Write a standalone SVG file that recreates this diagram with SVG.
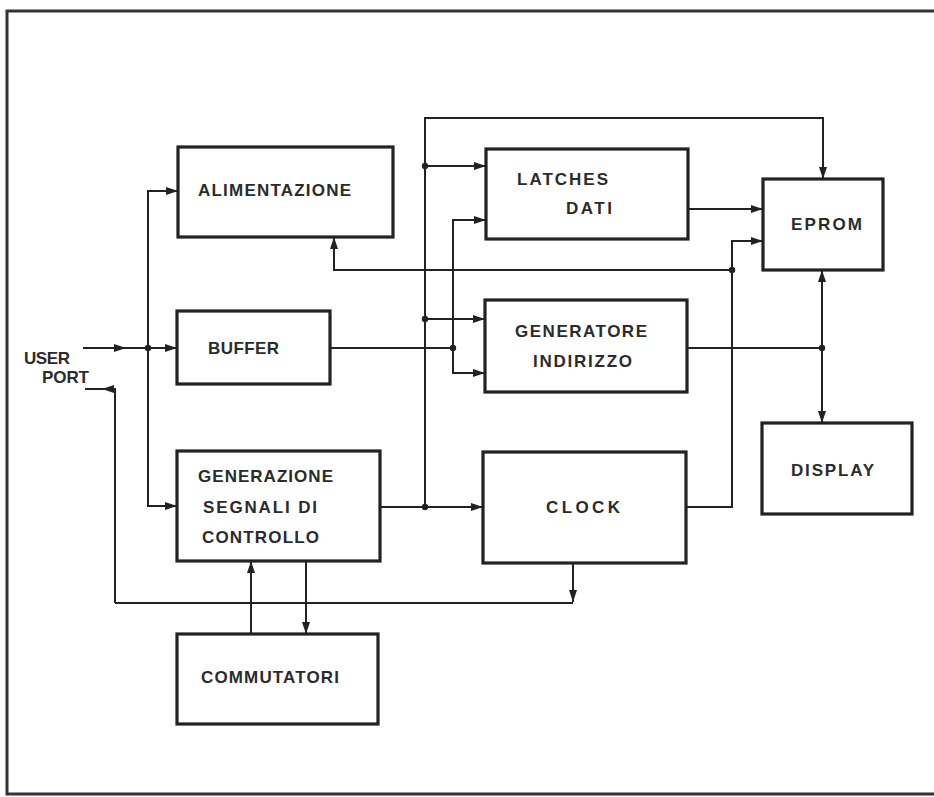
<svg xmlns="http://www.w3.org/2000/svg" width="934" height="797" viewBox="0 0 934 797">
<style>
.box{fill:none;stroke:#222;stroke-width:3.2}
.ln{fill:none;stroke:#222;stroke-width:2}
.arr{fill:none;stroke:#222;stroke-width:2;marker-end:url(#ah)}
.frame{fill:none;stroke:#333;stroke-width:3}
text{font-family:"Liberation Sans",Arial,sans-serif;font-weight:bold;font-size:17px;fill:#2b2b2b}
.dot{fill:#222}
</style>
<defs>
<marker id="ah" viewBox="0 0 12 8" refX="12" refY="4" markerWidth="12" markerHeight="8" markerUnits="userSpaceOnUse" orient="auto">
<path d="M0,0 L12,4 L0,8 Z" fill="#222"/>
</marker>
</defs>
<rect width="934" height="797" fill="#fff"/>
<g id="frame">
<path class="frame" d="M934,11 L7,11 L7,794 L934,794"/>
</g>
<g id="connectors">
<path class="arr" d="M83,348 L126,348"/>
<path class="ln" d="M120,348 L148,348"/>
<path class="arr" d="M148,348 L177,348"/>
<path class="arr" d="M148,348 L148,191 L178,191"/>
<path class="arr" d="M148,348 L148,506 L177,506"/>
<path class="arr" d="M115,603 L115,389 L102,389"/>
<path class="ln" d="M104,389 L85,389"/>
<path class="ln" d="M115,603 L573,603"/>
<path class="arr" d="M573,563 L573,602"/>
<path class="arr" d="M251,634 L251,561"/>
<path class="arr" d="M306,561 L306,634"/>
<path class="ln" d="M330,348 L453,348"/>
<path class="arr" d="M453,348 L453,220 L486,220"/>
<path class="arr" d="M453,348 L453,373 L485,373"/>
<path class="arr" d="M380,507 L483,507"/>
<path class="arr" d="M425,507 L425,118 L823,118 L823,179"/>
<path class="arr" d="M425,166 L486,166"/>
<path class="arr" d="M425,319 L485,319"/>
<path class="arr" d="M688,209 L763,209"/>
<path class="arr" d="M686,507 L732,507 L732,241 L763,241"/>
<path class="arr" d="M732,270 L334,270 L334,237"/>
<path class="ln" d="M687,348 L822,348"/>
<path class="arr" d="M822,348 L822,270"/>
<path class="arr" d="M822,348 L822,423"/>
<circle class="dot" cx="148" cy="348" r="3.2"/>
<circle class="dot" cx="453" cy="348" r="3.2"/>
<circle class="dot" cx="425" cy="166" r="3.2"/>
<circle class="dot" cx="425" cy="319" r="3.2"/>
<circle class="dot" cx="425" cy="507" r="3.2"/>
<circle class="dot" cx="732" cy="270" r="3.2"/>
<circle class="dot" cx="822" cy="348" r="3.2"/>
</g>
<g id="userport">
<text x="24" y="364" textLength="46" lengthAdjust="spacing">USER</text>
<text x="42" y="383" textLength="47" lengthAdjust="spacing">PORT</text>
</g>
<g id="alimentazione">
<rect class="box" x="178" y="147" width="215" height="90"/>
<text x="198" y="196" textLength="153" lengthAdjust="spacing">ALIMENTAZIONE</text>
</g>
<g id="buffer">
<rect class="box" x="177" y="311" width="153" height="73"/>
<text x="208" y="354" textLength="71" lengthAdjust="spacing">BUFFER</text>
</g>
<g id="generazione">
<rect class="box" x="177" y="451" width="203" height="110"/>
<text x="198" y="482" textLength="135" lengthAdjust="spacing">GENERAZIONE</text>
<text x="203" y="513" textLength="114" lengthAdjust="spacing">SEGNALI DI</text>
<text x="202" y="543" textLength="117" lengthAdjust="spacing">CONTROLLO</text>
</g>
<g id="commutatori">
<rect class="box" x="177" y="634" width="201" height="90"/>
<text x="201" y="683" textLength="138" lengthAdjust="spacing">COMMUTATORI</text>
</g>
<g id="latches">
<rect class="box" x="486" y="149" width="202" height="90"/>
<text x="517" y="185" textLength="91" lengthAdjust="spacing">LATCHES</text>
<text x="566" y="214" textLength="46" lengthAdjust="spacing">DATI</text>
</g>
<g id="generatore">
<rect class="box" x="485" y="300" width="202" height="92"/>
<text x="515" y="337" textLength="132" lengthAdjust="spacing">GENERATORE</text>
<text x="533" y="367" textLength="99" lengthAdjust="spacing">INDIRIZZO</text>
</g>
<g id="clock">
<rect class="box" x="483" y="452" width="203" height="111"/>
<text x="546" y="513" textLength="74" lengthAdjust="spacing">CLOCK</text>
</g>
<g id="eprom">
<rect class="box" x="763" y="179" width="120" height="91"/>
<text x="791" y="230" textLength="71" lengthAdjust="spacing">EPROM</text>
</g>
<g id="display">
<rect class="box" x="762" y="423" width="150" height="91"/>
<text x="791" y="476" textLength="83" lengthAdjust="spacing">DISPLAY</text>
</g>
</svg>
